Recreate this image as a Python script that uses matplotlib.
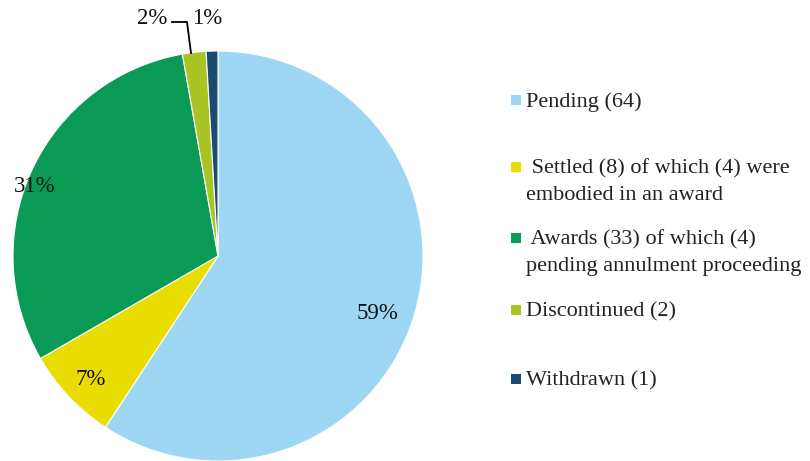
import matplotlib
matplotlib.use("Agg")
import matplotlib.pyplot as plt
from matplotlib.patches import Rectangle

categories = ["Pending (64)", " Settled (8) of which (4) were\nembodied in an award",
              " Awards (33) of which (4)\npending annulment proceeding",
              "Discontinued (2)", "Withdrawn (1)"]
values = [64, 8, 33, 2, 1]
pct_labels = ["59%", "7%", "31%", "2%", "1%"]
colors = ["#9DD7F3", "#E9DC00", "#0B9A56", "#A9C423", "#1B4A72"]

plt.rcParams['font.family'] = ['Liberation Serif', 'DejaVu Serif']
W, H = 810, 461
fig = plt.figure(figsize=(W/100, H/100), dpi=100)
cx, cy, r = 218, 256, 205
ax = fig.add_axes([(cx - r)/W, (H - cy - r)/H, 2*r/W, 2*r/H])
wedges, _ = ax.pie(values, colors=colors, startangle=90, counterclock=False,
                   radius=1.0, wedgeprops=dict(edgecolor="white", linewidth=0.8))
ax.set_xlim(-1, 1); ax.set_ylim(-1, 1)
ax.set_aspect("equal"); ax.axis("off")

def px(x, y):
    return ((x - cx)/r, (cy - y)/r)

label_pos = [(378, 313), (91, 379), (35, 187), (152, 19), (207, 19)]
for lab, (x, y) in zip(pct_labels, label_pos):
    ax.text(*px(x, y), lab, ha="center", va="center", fontsize=16.5, color="#111111", clip_on=False)

# leader line for 2%
xs, ys = zip(*[px(172, 22), px(187, 22), px(191, 53)])
ax.plot(xs, ys, color="black", lw=1.3, clip_on=False)

# legend
leg_y = [100, 167, 238, 310, 379]
line_gap = 27
for lab, col, y in zip(categories, colors, leg_y):
    fig.patches.append(Rectangle((511/W, (H - y - 5)/H), 10/W, 10/H, transform=fig.transFigure,
                                 facecolor=col, edgecolor="none"))
    for i, line in enumerate(lab.split("\n")):
        fig.text(526/W, (H - y - 2 - i*line_gap)/H, line, ha="left", va="center",
                 fontsize=16, color="#222222")

fig.savefig("out.png", dpi=100)
